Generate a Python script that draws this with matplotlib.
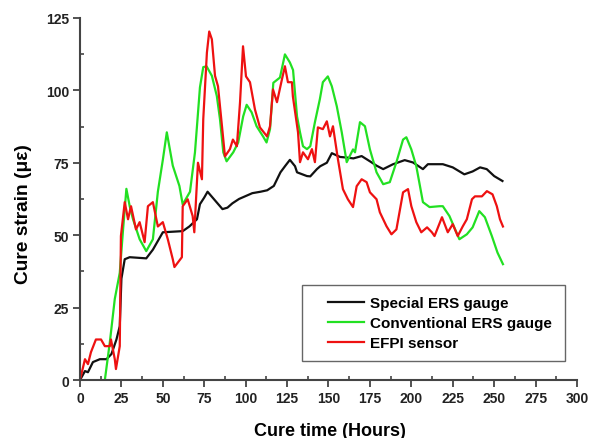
import matplotlib
matplotlib.use("Agg")
import matplotlib.pyplot as plt
from matplotlib.ticker import MultipleLocator
from matplotlib.patches import Rectangle

plt.rcParams['font.family'] = ['Liberation Sans', 'DejaVu Sans']

# Special ERS gauge (black)
special_t = [0, 3, 4.8, 7.8, 12, 16, 19, 22, 24, 25, 27, 30, 40, 44, 50, 62, 66, 70.6, 72.4,
             75, 77, 80, 83, 86, 89, 92, 96, 100, 104, 109, 113, 117, 121, 124, 126.7, 129.8,
             131, 137, 139, 143, 145, 149, 152, 157, 161, 165, 170, 175, 179, 183, 189, 196,
             201, 207, 210, 219, 225, 232, 237, 241.5, 245.5, 250, 255]
special_v = [0, 3.1, 2.7, 6.2, 7.2, 7.2, 9, 14, 18.6, 35, 41.7, 42.4, 42, 45, 51, 51.4, 53, 55.5, 60.7,
             63, 65, 63, 61, 59, 59.5, 61, 62.5, 63.5, 64.5, 65, 65.5, 67, 71.7, 74, 76, 73.8,
             71.7, 70.4, 70.3, 72.8, 73.8, 75, 78.3, 77, 76.8, 76.5, 77.3, 75.5, 74, 72.8, 74.5, 75.9,
             75.1, 72.8, 74.5, 74.5, 73.4, 71, 72, 73.4, 72.8, 70.4, 68.7]

# Conventional ERS gauge (green)
conv_t = [15, 18, 21, 24, 26, 28, 30, 32, 36, 40, 44, 47, 50, 52.4, 56, 60, 62, 66.4, 69.4,
          72.4, 74.4, 76.4, 79.6, 82.6, 84.5, 86.5, 88.5, 92.5, 95.5, 98.5, 100.6, 103.6,
          106.6, 110.6, 112.6, 114.7, 116.7, 120.7, 123.7, 126.7, 128.6, 131, 132.8, 134.6,
          137, 139, 141.8, 144.8, 146.6, 149.6, 152, 155, 158, 161, 164.8, 166, 169, 172, 175,
          179, 183, 187, 191, 195, 197, 200, 203, 207, 211, 217, 219, 223, 229, 233.5, 237,
          241, 244.4, 248.6, 252, 255.3]
conv_v = [0, 13, 28, 37, 52, 66, 60, 55.5, 48.6, 44.5, 48.6, 65, 76, 85.5, 74, 67, 60.6, 65, 78.6,
          101, 108, 108.3, 105, 98, 90, 78.6, 75.5, 78.6, 82, 91, 95, 92.4,
          87.6, 84, 82, 86.6, 102.6, 104.4, 112.4, 109.6, 107, 91, 85.5, 80.7,
          79.7, 80.7, 89, 97, 102.8, 104.8, 101.4, 94.5, 85.5, 75.2, 79.6, 78.6, 89, 87.6, 79.6,
          71.7, 67.6, 68.3, 75.2, 83, 83.8, 79.6, 73.8, 61.4, 59.7, 60, 60, 56.6, 48.6, 50.3, 52.7,
          58.3, 56.2, 49.7, 44, 40]

# EFPI sensor (red)
efpi_t = [0, 3, 4.8, 6.6, 9.6, 12.7, 15, 18, 18.7, 21, 21.7, 24, 24.7, 27, 29, 30.8, 33.8, 36,
          39, 41, 44, 47, 50, 53, 56, 57, 61.5, 62, 65, 68, 69, 71.2, 73.6, 74.4, 76.6, 78,
          79.6, 81.5, 83.3, 85.7, 87.5, 90.5, 92.3, 94.7, 96.6, 98.4, 100.2, 102.6, 105.6,
          108.6, 112.9, 114.7, 116.5, 118.9, 121.9, 123.7, 125.5, 127.9, 128.5, 131.6, 132.8,
          134.6, 137.6, 140, 141.8, 143.6, 146.6, 149, 150.9, 152.7, 155.7, 158.7, 161.7, 164.8,
          167, 170, 173, 175, 179, 181, 185, 188, 191, 195, 198, 200, 203, 206, 209.5, 212.4,
          214, 218.5, 222, 225, 228, 231, 233.5, 236.6, 238.4, 242.6, 245.6, 249, 251.6, 253.5,
          255.3]
efpi_v = [0, 7.2, 5.5, 9.6, 14, 14, 11.7, 11.7, 14, 7.2, 3.8, 11.7, 49.7, 61.4, 55.5, 60, 52, 54.5,
          47.6, 60, 61.4, 53, 54.5, 48.6, 41.7, 39, 42.4, 60, 62.4, 56.6, 51, 75, 69.3, 90, 113, 120.3,
          117.6, 105, 101.4, 87.6, 77.2, 79.7, 83, 80.7, 95.9, 115.2, 104.8, 102.8, 93.4,
          87.2, 84.1, 87.6, 100.3, 95.9, 103.8, 108.3, 102.8, 102.8, 97.9, 85.5, 75.2,
          78.6, 76.2, 79.7, 75.2, 87.2, 86.6, 89.3, 84.1, 87.6, 76.2, 65.9, 62.4, 59.7,
          66.9, 69.3, 68.3, 64.8, 62.4, 57.9, 53.1, 50.3, 52, 64.8, 65.9, 60, 54.5, 51, 52.7, 51,
          49.7, 56.2, 51, 53.8, 49.7, 53, 55.5, 62.4, 63.4, 63.4, 65.2, 64.1, 60, 55.5,
          53]

x_ticks = [0, 25, 50, 75, 100, 125, 150, 175, 200, 225, 250, 275, 300]
y_ticks = [0, 25, 50, 75, 100, 125]

fig = plt.figure(figsize=(5.97, 4.39), dpi=100)
ax = fig.add_axes([0.134, 0.132, 0.8325, 0.825])

ax.plot(special_t, special_v, color='#111111', lw=1.6, label='Special ERS gauge')
ax.plot(conv_t, conv_v, color='#22e022', lw=1.6, label='Conventional ERS gauge')
ax.plot(efpi_t, efpi_v, color='#ee1111', lw=1.6, label='EFPI sensor')

ax.set_xlim(0, 300)
ax.set_ylim(0, 125)
ax.set_xticks(x_ticks)
ax.set_yticks(y_ticks)
ax.xaxis.set_minor_locator(MultipleLocator(12.5))
ax.yaxis.set_minor_locator(MultipleLocator(12.5))

for s in ['top', 'right']:
    ax.spines[s].set_visible(False)
for s in ['left', 'bottom']:
    ax.spines[s].set_color('#444444')
    ax.spines[s].set_linewidth(1.5)

ax.tick_params(which='major', direction='out', length=5, width=1.3, color='#444444',
               labelsize=10, pad=3)
ax.tick_params(which='minor', direction='in', length=3, width=1.2, color='#444444')
for lab in ax.get_xticklabels() + ax.get_yticklabels():
    lab.set_fontweight('bold')
    lab.set_color('#222222')

ax.set_xlabel('Cure time (Hours)', fontsize=13, fontweight='bold')
ax.xaxis.set_label_coords(0.503, -0.115)
ax.set_ylabel('Cure strain (\u03bc\u03b5)', fontsize=13.8, fontweight='bold')
ax.yaxis.set_label_coords(-0.097, 0.46)

# legend box drawn as a plain rectangle, entries placed inside
box = Rectangle((0.447, 0.052), 0.529, 0.21, transform=ax.transAxes, fill=False,
                edgecolor='#666666', linewidth=1.0, zorder=5)
ax.add_patch(box)
leg = ax.legend(loc='center left', bbox_to_anchor=(0.5, 0.157),
                prop={'weight': 'bold', 'size': 11}, frameon=False,
                handlelength=2.3, borderpad=0.0, borderaxespad=0.0,
                labelspacing=0.38, handletextpad=0.4)

fig.savefig('out.png', dpi=100)
